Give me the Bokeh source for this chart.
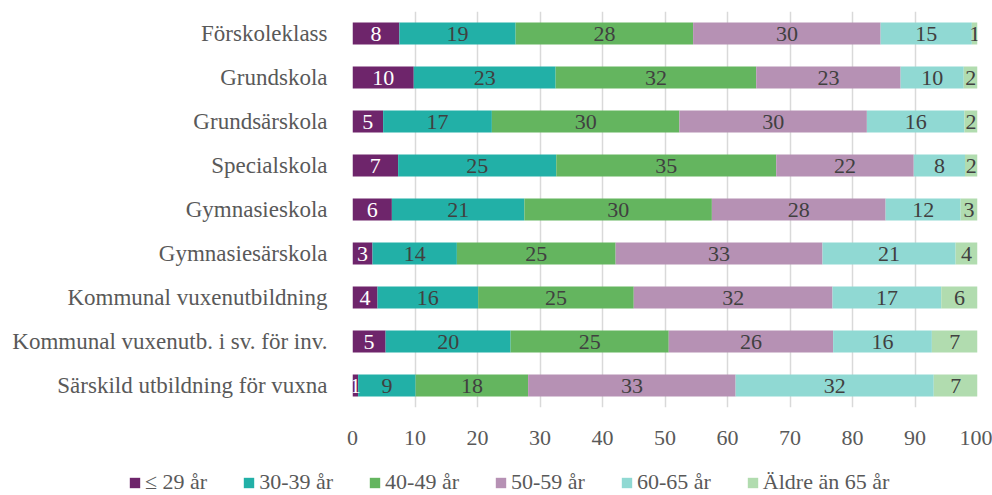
from bokeh.plotting import figure
from bokeh.models import ColumnDataSource, Range1d, FactorRange, Legend, LegendItem, SingleIntervalTicker
from bokeh.core.properties import value
from bokeh.embed import file_html
from bokeh.resources import INLINE

categories = ["Förskoleklass", "Grundskola", "Grundsärskola", "Specialskola",
              "Gymnasieskola", "Gymnasiesärskola", "Kommunal vuxenutbildning",
              "Kommunal vuxenutb. i sv. för inv.", "Särskild utbildning för vuxna"]

series_names = ["≤ 29 år", "30-39 år", "40-49 år", "50-59 år", "60-65 år", "Äldre än 65 år"]

# segment widths (percent) as drawn
age_29 = [7.5, 9.8, 4.9, 7.3, 6.3, 3.2, 4.0, 5.3, 0.9]
age_30_39 = [18.6, 22.7, 17.4, 25.3, 21.2, 13.5, 16.1, 20.0, 9.2]
age_40_49 = [28.4, 32.1, 30.0, 35.2, 30.0, 25.4, 24.9, 25.3, 18.0]
age_50_59 = [30.0, 23.1, 30.0, 22.0, 27.8, 33.1, 31.8, 26.3, 33.2]
age_60_65 = [14.6, 10.1, 15.6, 8.2, 12.0, 21.3, 17.4, 15.8, 31.7]
age_65_plus = [0.9, 2.2, 2.1, 2.0, 2.7, 3.5, 5.8, 7.3, 7.0]

# labels printed on the segments
lab_29 = [8, 10, 5, 7, 6, 3, 4, 5, 1]
lab_30_39 = [19, 23, 17, 25, 21, 14, 16, 20, 9]
lab_40_49 = [28, 32, 30, 35, 30, 25, 25, 25, 18]
lab_50_59 = [30, 23, 30, 22, 28, 33, 32, 26, 33]
lab_60_65 = [15, 10, 16, 8, 12, 21, 17, 16, 32]
lab_65_plus = [1, 2, 2, 2, 3, 4, 6, 7, 7]

colors = ["#6E256B", "#22B0A7", "#64B55F", "#B691B4", "#90D9D3", "#B1DCAF"]
label_colors = ["#FFFFFF", "#404040", "#404040", "#404040", "#404040", "#404040"]

FONT = "Liberation Serif"
FS = "22px"

series = [age_29, age_30_39, age_40_49, age_50_59, age_60_65, age_65_plus]
labels = [lab_29, lab_30_39, lab_40_49, lab_50_59, lab_60_65, lab_65_plus]
keys = ["s%d" % i for i in range(len(series))]

data = {"cat": categories}
for k, s in zip(keys, series):
    data[k] = s
source = ColumnDataSource(data)

p = figure(width=992, height=460, output_backend="svg", toolbar_location=None,
           x_range=Range1d(0, 100), y_range=FactorRange(*reversed(categories), range_padding=0),
           min_border_left=352, min_border_right=15, min_border_top=11, min_border_bottom=53)
p.outline_line_color = None

p.hbar_stack(keys, y="cat", height=0.5, color=colors, source=source, line_color=None)

# segment labels
for i in range(len(series)):
    xs, ys, ts = [], [], []
    for j, c in enumerate(categories):
        start = sum(series[k][j] for k in range(i))
        xs.append(start + series[i][j] / 2.0)
        ys.append(c)
        ts.append(str(labels[i][j]))
    p.text(x=xs, y=ys, text=ts, text_align="center", text_baseline="middle",
           text_font=value(FONT), text_font_size=FS, text_color=label_colors[i])

p.xaxis.ticker = SingleIntervalTicker(interval=10)
p.xgrid.grid_line_color = "#D9D9D9"
p.xgrid.grid_line_width = 1.5
p.ygrid.grid_line_color = None

for ax in (p.xaxis, p.yaxis):
    ax.axis_line_color = None
    ax.major_tick_line_color = None
    ax.minor_tick_line_color = None
    ax.major_label_text_font = FONT
    ax.major_label_text_font_size = FS
    ax.major_label_text_color = "#595959"
p.yaxis.major_label_text_font_size = "23px"
p.xaxis.major_label_standoff = 17
p.yaxis.major_label_standoff = 19

# legend strip below the chart
lg = figure(width=992, height=35, output_backend="svg", toolbar_location=None,
            x_range=Range1d(0, 1), y_range=Range1d(0, 1),
            x_axis_location=None, y_axis_location=None,
            min_border_left=0, min_border_right=0, min_border_top=0, min_border_bottom=0)
lg.outline_line_color = None
lg.xgrid.grid_line_color = None
lg.ygrid.grid_line_color = None
items = []
for name, col in zip(series_names, colors):
    # off-screen swatch renderer, only used for the legend key
    r = lg.hbar(y=[-5], left=[0], right=[1], height=0.5, color=col, line_color=None)
    items.append(LegendItem(label=name, renderers=[r]))
legend = Legend(items=items, orientation="horizontal", location=(128, 0),
                border_line_color=None, background_fill_alpha=0, padding=0, margin=0,
                spacing=35, label_standoff=4, glyph_width=13, glyph_height=13,
                label_text_font=FONT, label_text_font_size=FS, label_text_color="#595959")
lg.add_layout(legend)

open("out.html", "w").write(file_html([p, lg], INLINE))
